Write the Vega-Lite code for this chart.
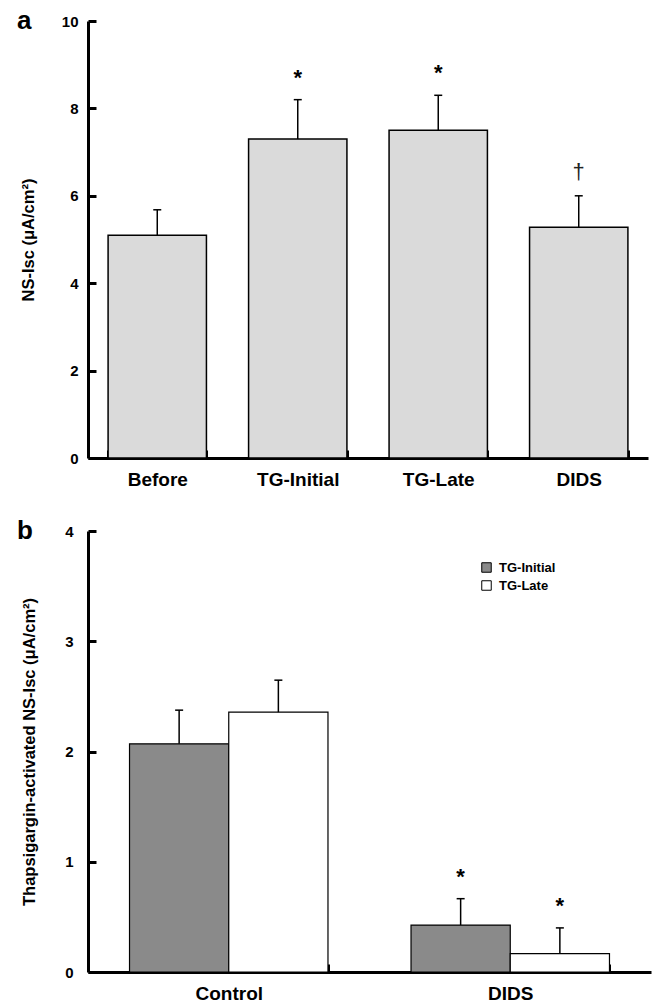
{
  "$schema": "https://vega.github.io/schema/vega-lite/v6.json",
  "padding": {"left": 17, "top": 8, "right": 2, "bottom": 5},
  "spacing": 29,
  "config": {
    "font": "Liberation Sans",
    "view": {"stroke": null},
    "axis": {
      "domainColor": "black", "domainWidth": 3, "tickColor": "black", "tickWidth": 3,
      "labelColor": "black", "labelFontWeight": "bold", "titleColor": "black",
      "titleFontWeight": "bold", "grid": false
    }
  },
  "vconcat": [
    {
      "width": 560,
      "height": 437,
      "title": {"text": "a", "anchor": "start", "frame": "group", "fontSize": 26, "fontWeight": "bold", "dx": -71, "dy": 41, "offset": 0, "baseline": "alphabetic", "color": "black"},
      "data": {"values": [
        {"cond": "Before", "mean": 5.1, "err": 5.68, "sig": ""},
        {"cond": "TG-Initial", "mean": 7.3, "err": 8.2, "sig": "*"},
        {"cond": "TG-Late", "mean": 7.5, "err": 8.3, "sig": "*"},
        {"cond": "DIDS", "mean": 5.28, "err": 6.0, "sig": "†"}
      ]},
      "encoding": {
        "x": {"field": "cond", "type": "nominal", "sort": null,
          "scale": {"paddingInner": 0.3, "paddingOuter": 0.143},
          "axis": {"title": null, "labelAngle": 0, "tickBand": "extent", "tickSize": -8, "labelFontSize": 19, "labelPadding": 20}}
      },
      "layer": [
        {"mark": {"type": "bar", "fill": "#dadada", "stroke": "black", "strokeWidth": 1.5},
         "encoding": {"y": {"field": "mean", "type": "quantitative", "scale": {"domain": [0, 10]},
           "axis": {"values": [0, 2, 4, 6, 8, 10], "format": "d", "tickSize": -8, "labelFontSize": 15, "labelPadding": 18,
             "title": "NS-Isc (μA/cm²)", "titleFontSize": 16.5, "titlePadding": 25}}}},
        {"mark": {"type": "rule", "strokeWidth": 1.5, "color": "black"},
         "encoding": {"y": {"field": "mean", "type": "quantitative"}, "y2": {"field": "err"}}},
        {"mark": {"type": "tick", "thickness": 1.5, "size": 8, "color": "black", "opacity": 1},
         "encoding": {"y": {"field": "err", "type": "quantitative"}}},
        {"transform": [{"filter": "datum.sig == '*'"}],
         "mark": {"type": "text", "fontSize": 22, "fontWeight": "bold", "baseline": "alphabetic", "dy": -15, "color": "black"},
         "encoding": {"y": {"field": "err", "type": "quantitative"}, "text": {"field": "sig"}}},
        {"transform": [{"filter": "datum.sig == '†'"}],
         "mark": {"type": "text", "fontSize": 22, "baseline": "alphabetic", "dy": -17, "color": "#222222"},
         "encoding": {"y": {"field": "err", "type": "quantitative"}, "text": {"field": "sig"}}}
      ]
    },
    {
      "width": 563,
      "height": 441,
      "title": {"text": "b", "anchor": "start", "frame": "group", "fontSize": 26, "fontWeight": "bold", "dx": -71, "dy": 41, "offset": 0, "baseline": "alphabetic", "color": "black"},
      "data": {"values": [
        {"group": "Control", "phase": "TG-Initial", "mean": 2.07, "err": 2.375, "sig": ""},
        {"group": "Control", "phase": "TG-Late", "mean": 2.357, "err": 2.647, "sig": ""},
        {"group": "DIDS", "phase": "TG-Initial", "mean": 0.426, "err": 0.665, "sig": "*"},
        {"group": "DIDS", "phase": "TG-Late", "mean": 0.166, "err": 0.4, "sig": "*"}
      ]},
      "encoding": {
        "x": {"field": "group", "type": "nominal", "sort": null,
          "scale": {"paddingInner": 0.295, "paddingOuter": 0.1475},
          "axis": {"title": null, "labelAngle": 0, "tickBand": "extent", "tickSize": -8, "labelFontSize": 19, "labelPadding": 20}},
        "xOffset": {"field": "phase", "type": "nominal", "sort": null, "scale": {"paddingInner": 0, "paddingOuter": 0}}
      },
      "layer": [
        {"mark": {"type": "bar", "stroke": "black", "strokeWidth": 1.2},
         "encoding": {
           "y": {"field": "mean", "type": "quantitative", "scale": {"domain": [0, 4]},
             "axis": {"values": [0, 1, 2, 3, 4], "format": "d", "tickSize": -8, "labelFontSize": 15, "labelPadding": 23,
               "title": "Thapsigargin-activated NS-Isc (μA/cm²)", "titleFontSize": 16.5, "titlePadding": 27}},
           "fill": {"field": "phase", "type": "nominal", "sort": null,
             "scale": {"domain": ["TG-Initial", "TG-Late"], "range": ["#8a8a8a", "#ffffff"]},
             "legend": {"orient": "none", "legendX": 392, "legendY": 540, "title": null, "symbolType": "square",
               "symbolSize": 90, "symbolStrokeColor": "black", "symbolStrokeWidth": 1, "labelFontSize": 13,
               "labelFontWeight": "bold", "labelColor": "black", "rowPadding": 3, "labelOffset": 6}}
         }},
        {"mark": {"type": "rule", "strokeWidth": 1.5, "color": "black"},
         "encoding": {"y": {"field": "mean", "type": "quantitative"}, "y2": {"field": "err"}}},
        {"mark": {"type": "tick", "thickness": 1.5, "size": 8, "color": "black", "opacity": 1},
         "encoding": {"y": {"field": "err", "type": "quantitative"}}},
        {"transform": [{"filter": "datum.sig == '*'"}],
         "mark": {"type": "text", "fontSize": 22, "fontWeight": "bold", "baseline": "alphabetic", "dy": -15, "color": "black"},
         "encoding": {"y": {"field": "err", "type": "quantitative"}, "text": {"field": "sig"}}}
      ]
    }
  ]
}
